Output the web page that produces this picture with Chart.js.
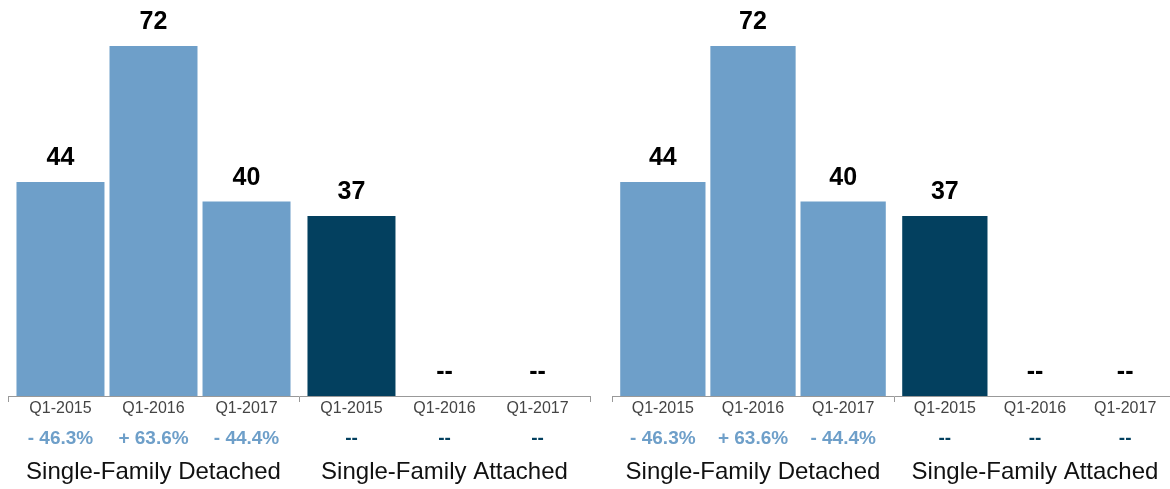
<!DOCTYPE html>
<html>
<head>
<meta charset="utf-8">
<script src="https://cdn.jsdelivr.net/npm/chart.js@4"></script>
<style>
  html, body { margin: 0; padding: 0; background: #fff; overflow: hidden; }
  body { width: 1170px; height: 489px; position: relative; }
  .panel { position: absolute; top: 0; height: 489px; }
  #p1 { left: 0; width: 600px; }
  #p2 { left: 604px; width: 580px; }
</style>
</head>
<body>
<div class="panel" id="p1"><canvas id="c1"></canvas></div>
<div class="panel" id="p2"><canvas id="c2"></canvas></div>
<script>
const groups = ['Single-Family Detached', 'Single-Family Attached'];
const quarters = ['Q1-2015', 'Q1-2016', 'Q1-2017'];
const q1_2015 = [44, 37];
const q1_2016 = [72, null];
const q1_2017 = [40, null];
const changeDetached = ['- 46.3%', '+ 63.6%', '- 44.4%'];
const changeAttached = ['--', '--', '--'];

const lightBlue = '#6e9fc9';
const darkBlue = '#03405f';
const fontFam = '"Liberation Sans", Arial, Helvetica, sans-serif';

const labelPlugin = {
  id: 'barLabels',
  afterDatasetsDraw(chart) {
    const ctx = chart.ctx;
    const bottom = chart.chartArea.bottom;
    const changes = [changeDetached, changeAttached];
    ctx.save();
    ctx.textAlign = 'center';
    chart.data.datasets.forEach((ds, i) => {
      const meta = chart.getDatasetMeta(i);
      meta.data.forEach((bar, j) => {
        const v = ds.data[j];
        const x = bar.x;
        // value on top of bar
        ctx.fillStyle = '#000';
        ctx.font = 'bold 25px ' + fontFam;
        ctx.textBaseline = 'alphabetic';
        if (v == null) {
          ctx.fillText('--', x, bottom - 17);
        } else {
          ctx.fillText(String(v), x, bar.y - 17);
        }
        // quarter label
        ctx.textBaseline = 'middle';
        ctx.fillStyle = '#444';
        ctx.font = '16px ' + fontFam;
        ctx.fillText(quarters[i], x, bottom + 13);
        // change label
        ctx.font = 'bold 19px ' + fontFam;
        ctx.fillStyle = j === 0 ? lightBlue : darkBlue;
        ctx.fillText(changes[j][i], x, bottom + 43);
      });
    });
    ctx.restore();
  }
};

function makeChart(id, padRight) {
  new Chart(document.getElementById(id), {
    type: 'bar',
    data: {
      labels: groups,
      datasets: [
        { label: quarters[0], data: q1_2015 },
        { label: quarters[1], data: q1_2016 },
        { label: quarters[2], data: q1_2017 }
      ].map(d => Object.assign(d, {
        backgroundColor: [lightBlue, darkBlue],
        borderWidth: 0,
        categoryPercentage: 0.959,
        barPercentage: 0.946
      }))
    },
    options: {
      responsive: true,
      maintainAspectRatio: false,
      animation: false,
      layout: { padding: { top: 7, left: 8, right: padRight, bottom: 0 } },
      plugins: { legend: { display: false }, tooltip: { enabled: false } },
      scales: {
        x: {
          grid: { drawOnChartArea: false, tickLength: 6, color: '#999', offset: true },
          border: { color: '#999', width: 1 },
          ticks: {
            color: '#111',
            padding: 56,
            font: { family: fontFam, size: 24 }
          },
          afterFit(s) {
            s.height = 93;
            s.paddingLeft = 0;
            s.paddingRight = 0;
          }
        },
        y: { display: false, min: 0, max: 80 }
      }
    },
    plugins: [labelPlugin]
  });
}

makeChart('c1', 10);
makeChart('c2', 8);
</script>
</body>
</html>
